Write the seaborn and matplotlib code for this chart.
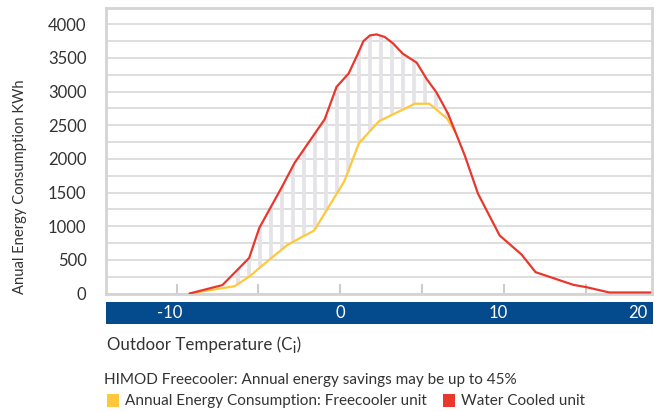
import numpy as np
import pandas as pd
import matplotlib
matplotlib.use("Agg")
import matplotlib.pyplot as plt
from matplotlib.patches import Rectangle
import seaborn as sns

# --- data --- #
temp_water = [-9.2, -7.2, -5.57, -4.95, -3.6, -2.8, -1.57, -0.96, -0.24, 0.5, 1.0, 1.4, 1.8,
              2.2, 2.7, 3.2, 3.8, 4.65, 5.25, 5.85, 6.56, 7.58, 8.39, 9.71, 11.04, 11.9,
              14.2, 15.0, 16.4, 18.9]
kwh_water = [0, 125, 528, 975, 1570, 1940, 2375, 2590, 3070, 3270, 3530, 3750, 3836,
             3850, 3812, 3718, 3564, 3430, 3190, 2990, 2672, 2052, 1482, 862, 580, 317,
             129, 94, 15, 15]

temp_free = [-9.2, -6.45, -5.53, -4.92, -3.25, -1.6, 0.23, 1.13, 2.35, 4.53, 5.42, 6.5, 7.0]
kwh_free = [0, 109, 257, 385, 720, 937, 1665, 2235, 2560, 2820, 2820, 2600, 2400]

band_labels = ["-10", "0", "10", "20"]
band_pos = [0.117, 0.428, 0.717, 0.973]   # label centres, fraction of band width

RED = "#e8382d"
YELLOW = "#ffc83c"
BLUE = "#034b8c"
GREY_TXT = "#333333"

sns.set_theme(style="white")
plt.rcParams["font.family"] = ["Lato", "DejaVu Sans"]

fig = plt.figure(figsize=(6.54, 4.12), dpi=100)
ax = fig.add_axes([106 / 654, 1 - 293.5 / 412, 546 / 654, 286 / 412])

# --- grid and frame --- #
ax.set_xlim(-14.3, 19)
ax.set_ylim(0, 4250)
ax.set_yticks(np.arange(0, 4001, 500))
ax.set_yticks(np.arange(0, 4001, 250), minor=True)
ax.grid(axis="y", which="both", color="#dedede", linewidth=1.4)
ax.set_axisbelow(True)
for sp in ax.spines.values():
    sp.set_color("#d4d4d4")
    sp.set_linewidth(2)

# hatching between the two curves
x_h = np.arange(-6.24, 6.7, 0.67)
lo = np.interp(x_h, temp_free, kwh_free)
hi = np.interp(x_h, temp_water, kwh_water)
ax.vlines(x_h, lo, hi, color="#e4e4e8", linewidth=2.7, zorder=1)

df_w = pd.DataFrame({"t": temp_water, "kwh": kwh_water})
df_f = pd.DataFrame({"t": temp_free, "kwh": kwh_free})
sns.lineplot(data=df_f, x="t", y="kwh", ax=ax, color=YELLOW, linewidth=1.6, zorder=3)
sns.lineplot(data=df_w, x="t", y="kwh", ax=ax, color=RED, linewidth=1.6, zorder=4)

ax.set_xticks([-10, -5, 0, 5, 10, 15])
ax.set_xticklabels([])
ax.tick_params(axis="x", which="major", direction="in", length=7, width=1.5,
               color="#cccccc", bottom=True)
ax.tick_params(axis="y", which="both", length=0, pad=14, labelsize=12, labelcolor=GREY_TXT)
ax.set_xlabel("")
ax.set_ylabel("")
fig.text(20 / 654, 1 - 294 / 412, "Anual Energy Consumption KWh", rotation=90,
         ha="center", va="bottom", fontsize=10.6, color=GREY_TXT)

# --- blue temperature band --- #
band = fig.add_axes([106 / 654, 1 - 324 / 412, 547 / 654, 22 / 412])
band.set_facecolor(BLUE)
band.set_xlim(0, 1)
band.set_ylim(0, 1)
band.set_xticks([])
band.set_yticks([])
for sp in band.spines.values():
    sp.set_visible(False)
for lab, p in zip(band_labels, band_pos):
    band.text(p, 0.5, lab, color="white", ha="center", va="center", fontsize=12)

# --- captions and legend --- #
fig.text(107 / 654, 1 - 345 / 412, "Outdoor Temperature (C¡)", ha="left", va="center",
         fontsize=12.2, color=GREY_TXT)
fig.text(104 / 654, 1 - 380 / 412, "HIMOD Freecooler: Annual energy savings may be up to 45%",
         ha="left", va="center", fontsize=11, color=GREY_TXT)
fig.add_artist(Rectangle((107 / 654, 1 - 407 / 412), 12 / 654, 13 / 412,
                         transform=fig.transFigure, color=YELLOW, lw=0))
fig.text(125 / 654, 1 - 401 / 412, "Annual Energy Consumption: Freecooler unit", ha="left",
         va="center", fontsize=11, color=GREY_TXT)
fig.add_artist(Rectangle((443 / 654, 1 - 407 / 412), 12 / 654, 13 / 412,
                         transform=fig.transFigure, color=RED, lw=0))
fig.text(461 / 654, 1 - 401 / 412, "Water Cooled unit", ha="left", va="center",
         fontsize=11, color=GREY_TXT)

fig.savefig("out.png", dpi=100)
